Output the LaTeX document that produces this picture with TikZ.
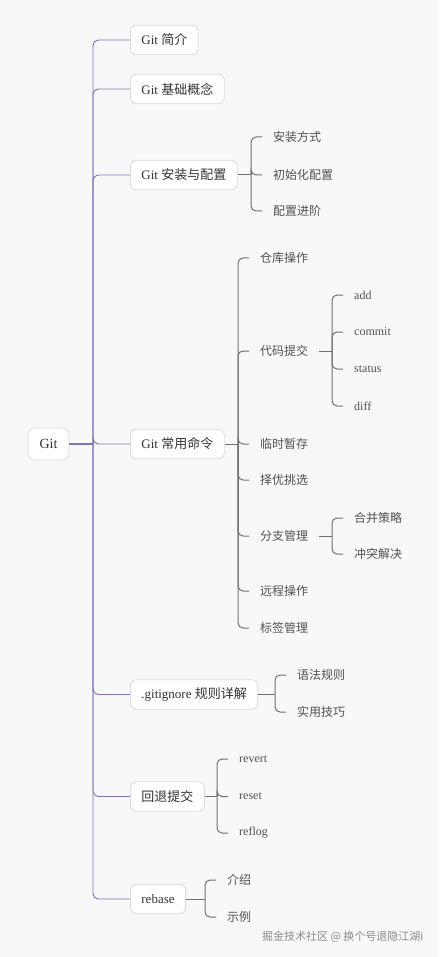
\documentclass[tikz,border=0pt]{standalone}
\usepackage{fontspec}
\setmainfont{Liberation Serif}
\newfontfamily\cjk{Noto Sans CJK SC}
\newcommand{\zh}[1]{{\cjk #1}}
\definecolor{bgc}{HTML}{F8F8F9}
\definecolor{trunkc}{HTML}{7D75B8}
\definecolor{branchc}{HTML}{707070}
\definecolor{boxc}{HTML}{DADADA}
\tikzset{
  topic/.style={draw=boxc, fill=white, rounded corners=6pt, line width=0.8pt,
    minimum height=29.5pt, inner xsep=11pt, anchor=west, text=black!80,
    font=\fontsize{13}{15}\selectfont},
  leaf/.style={anchor=west, inner xsep=11pt, text=black!68,
    font=\fontsize{12}{14}\selectfont},
  trunk/.style={draw=trunkc, line width=0.9pt, rounded corners=6pt},
  branch/.style={draw=branchc, line width=1pt, rounded corners=5pt}
}
\begin{document}
\begin{tikzpicture}[x=1pt, y=-1pt]
  \fill[bgc] (0,0) rectangle (439,957);
  \useasboundingbox (0,0) rectangle (439,957);

  \node[topic, anchor=center, minimum width=41pt, minimum height=32pt, inner xsep=0pt,
    font=\fontsize{14}{16}\selectfont] (root) at (48.5,444) {Git};
  \coordinate (m) at (93,444);

  \node[topic] (intro) at (130,40) {Git \zh{简介}};
  \node[topic] (basic) at (130,89) {Git \zh{基础概念}};
  \node[topic] (inst)  at (130,175) {Git \zh{安装与配置}};
  \node[topic] (cmd)   at (130,444) {Git \zh{常用命令}};
  \node[topic] (ign)   at (130,694.5) {.gitignore \zh{规则详解}};
  \node[topic] (back)  at (130,796.5) {\zh{回退提交}};
  \node[topic] (reb)   at (130,899) {rebase};

  \draw[trunkc, line width=2pt] (root.east) -- (m);
  \foreach \t in {intro,basic,inst,cmd,ign,back,reb}
    \draw[trunk] (m) |- (\t.west);

  % Git 安装与配置
  \coordinate (j1) at (251,175);
  \node[leaf] (i1) at (262,137) {\zh{安装方式}};
  \node[leaf] (i2) at (262,175) {\zh{初始化配置}};
  \node[leaf] (i3) at (262,211) {\zh{配置进阶}};
  \draw[branch] (inst.east) -- (j1);
  \foreach \t in {i1,i2,i3}
    \draw[branch] (j1) |- (\t.west);

  % Git 常用命令
  \coordinate (j2) at (238,444);
  \node[leaf] (c1) at (249,258) {\zh{仓库操作}};
  \node[leaf] (c2) at (249,351) {\zh{代码提交}};
  \node[leaf] (c3) at (249,444) {\zh{临时暂存}};
  \node[leaf] (c4) at (249,480) {\zh{择优挑选}};
  \node[leaf] (c5) at (249,536) {\zh{分支管理}};
  \node[leaf] (c6) at (249,591) {\zh{远程操作}};
  \node[leaf] (c7) at (249,628) {\zh{标签管理}};
  \draw[branch] (cmd.east) -- (j2);
  \foreach \t in {c1,c2,c3,c4,c5,c6,c7}
    \draw[branch] (j2) |- (\t.west);

  \coordinate (j3) at (332,351);
  \node[leaf] (d1) at (343,295) {add};
  \node[leaf] (d2) at (343,332) {commit};
  \node[leaf] (d3) at (343,369) {status};
  \node[leaf] (d4) at (343,406) {diff};
  \draw[branch] (c2.east) -- (j3);
  \foreach \t in {d1,d2,d3,d4}
    \draw[branch] (j3) |- (\t.west);

  \coordinate (j4) at (332,536);
  \node[leaf] (b1) at (343,518) {\zh{合并策略}};
  \node[leaf] (b2) at (343,554) {\zh{冲突解决}};
  \draw[branch] (c5.east) -- (j4);
  \foreach \t in {b1,b2}
    \draw[branch] (j4) |- (\t.west);

  % .gitignore
  \coordinate (j5) at (275,694.5);
  \node[leaf] (g1) at (286,675) {\zh{语法规则}};
  \node[leaf] (g2) at (286,712) {\zh{实用技巧}};
  \draw[branch] (ign.east) -- (j5);
  \foreach \t in {g1,g2}
    \draw[branch] (j5) |- (\t.west);

  % 回退提交
  \coordinate (j6) at (217,796.5);
  \node[leaf] (r1) at (228,759) {revert};
  \node[leaf] (r2) at (228,796.5) {reset};
  \node[leaf] (r3) at (228,833) {reflog};
  \draw[branch] (back.east) -- (j6);
  \foreach \t in {r1,r2,r3}
    \draw[branch] (j6) |- (\t.west);

  % rebase
  \coordinate (j7) at (205,899);
  \node[leaf] (e1) at (216,880) {\zh{介绍}};
  \node[leaf] (e2) at (216,917) {\zh{示例}};
  \draw[branch] (reb.east) -- (j7);
  \foreach \t in {e1,e2}
    \draw[branch] (j7) |- (\t.west);

  \node[anchor=east, text=black!45, font=\cjk\fontsize{11}{13}\selectfont] (wm) at (427,937) {掘金技术社区 @ 换个号退隐江湖i};
\end{tikzpicture}
\end{document}
